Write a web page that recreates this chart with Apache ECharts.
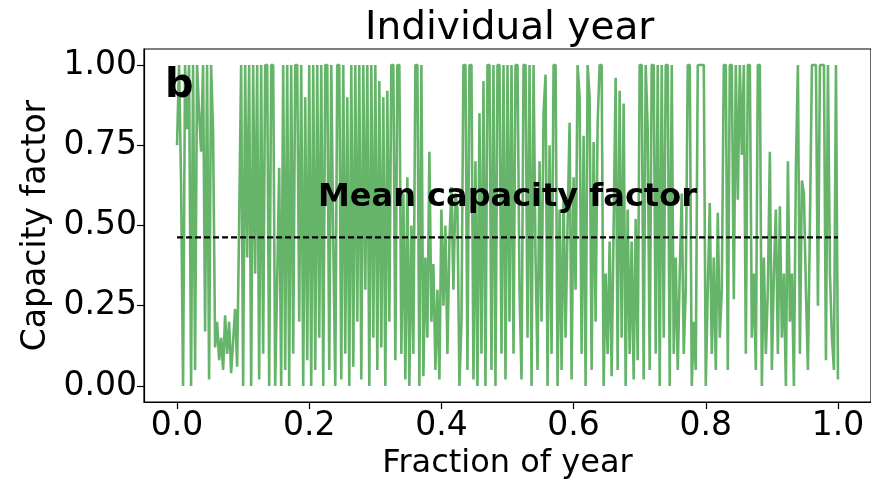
<!DOCTYPE html>
<html>
<head>
<meta charset="utf-8">
<script src="https://cdn.jsdelivr.net/npm/echarts@6/dist/echarts.min.js"></script>
<style>
  html, body { margin: 0; padding: 0; background: #fff; }
  #chart { width: 871px; height: 485px; }
</style>
</head>
<body>
<div id="chart"></div>
<script>
// hourly capacity factor (evenly spaced over the year)
const capacityFactor = [
  0.75, 1.0, 0.64, 0.0, 1.0, 0.8, 1.0, 0.0, 1.0, 0.05,
  1.0, 0.85, 0.73, 1.0, 0.17, 1.0, 0.02, 1.0, 0.79, 0.12,
  0.2, 0.08, 0.15, 0.05, 0.22, 0.1, 0.2, 0.04, 0.14, 0.24,
  0.06, 0.5, 1.0, 0.0, 1.0, 0.4, 1.0, 0.0, 1.0, 0.35,
  1.0, 0.02,
  1.0, 0.1, 1.0, 1.0, 0.0, 1.0, 1.0, 0.0, 0.33, 0.68,
  0.0, 1.0, 0.05, 1.0, 0.0, 1.0, 0.1, 1.0, 1.0, 0.2,
  1.0, 0.0, 0.9, 0.08, 1.0, 0.0, 1.0, 0.05, 1.0, 0.15,
  1.0, 0.0, 1.0, 1.0, 0.05, 1.0, 0.45, 0.0, 1.0, 1.0,
  0.02,
  1.0, 0.1, 0.9, 0.0, 1.0, 0.06, 1.0, 0.2, 1.0, 0.02,
  1.0, 0.3, 1.0, 0.0, 1.0, 0.15, 1.0, 0.05, 0.95, 0.12,
  0.9, 0.0, 0.92, 0.2, 1.0, 1.0, 0.08, 1.0, 1.0, 0.1,
  0.6, 0.02, 0.65, 0.0, 0.5, 0.1, 1.0, 1.0, 0.0, 1.0,
  0.03, 0.4, 0.15,
  0.73, 0.2, 0.38, 0.05, 0.3, 0.02, 0.55, 0.25, 0.5, 0.1,
  0.45, 0.62, 0.3, 0.6, 0.55, 0.0, 0.2, 1.0, 1.0, 0.05,
  1.0, 1.0, 0.02, 0.7, 0.0, 0.85, 0.1, 0.95, 0.0, 1.0,
  1.0, 0.05, 1.0, 0.0, 1.0, 1.0, 0.1, 1.0, 0.02, 1.0,
  0.2, 1.0,
  0.1, 1.0, 1.0, 0.3, 0.02, 1.0, 1.0, 0.15, 1.0, 0.0,
  1.0, 0.4, 0.05, 0.7, 0.2, 0.85, 0.97, 0.0, 0.75, 0.1,
  1.0, 1.0, 0.0, 0.55, 0.05, 0.6, 0.15, 0.5, 0.82, 0.02,
  0.65, 0.3, 1.0, 0.9, 0.1, 0.78, 0.0, 1.0, 0.9, 0.05,
  0.76, 0.2, 0.82,
  1.0, 1.0, 0.0, 0.35, 0.1, 0.45, 0.03, 0.5, 0.96, 0.05,
  0.92, 0.15, 0.88, 0.0, 0.55, 0.1, 0.45, 0.02, 0.52, 0.08,
  1.0, 1.0, 0.02, 1.0, 0.8, 0.05, 1.0, 1.0, 0.1, 1.0,
  0.0, 1.0, 0.15, 1.0, 1.0, 0.0, 1.0, 0.1, 0.4, 0.05,
  0.35,
  0.6, 0.1, 0.3, 1.0, 1.0, 0.0, 0.2, 0.05, 1.0, 1.0,
  1.0, 1.0, 0.0, 0.3, 0.57, 0.1, 0.4, 0.05, 0.54, 0.15,
  0.3, 1.0, 1.0, 0.05, 1.0, 1.0, 0.27, 1.0, 0.58, 1.0,
  0.72, 1.0, 0.1, 1.0, 1.0, 0.15, 0.35, 0.05, 1.0, 1.0,
  0.0, 0.4, 0.1,
  0.3, 0.73, 0.05, 0.35, 0.55, 0.1, 0.56, 0.15, 0.35, 0.0,
  0.7, 0.2, 0.35, 0.0, 0.68, 1.0, 0.1, 0.64, 0.6, 0.3,
  0.05, 0.5, 1.0, 1.0, 1.0, 0.25, 1.0, 1.0, 1.0, 0.08,
  1.0, 0.35, 0.15, 0.05, 1.0, 0.02
]
const meanCapacityFactor = 0.463
const xTicks = [0, 0.2, 0.4, 0.6, 0.8, 1.0]
const yTicks = [0, 0.25, 0.5, 0.75, 1.0]

const FONT = 'DejaVu Sans'
const series = capacityFactor.map((v, i) => [i / (capacityFactor.length - 1), v])
const meanLine = [[0, meanCapacityFactor], [1, meanCapacityFactor]]

const chart = echarts.init(document.getElementById('chart'), null, { renderer: 'canvas' })

const axisCommon = {
  type: 'value',
  splitLine: { show: false },
  axisLine: { show: true, onZero: false, lineStyle: { color: '#000', width: 1.2 } },
  axisTick: { show: true, length: 7, lineStyle: { color: '#000', width: 1.2 } },
  nameLocation: 'middle',
  nameTextStyle: { color: '#000', fontSize: 33, fontFamily: FONT }
}

const option = {
  animation: false,
  title: {
    text: 'Individual year',
    left: 360,
    top: 4,
    textStyle: { color: '#000', fontSize: 39, fontWeight: 'normal', fontFamily: FONT }
  },
  grid: {
    left: 144, right: 0, top: 49, bottom: 82,
    show: true, borderColor: '#000', borderWidth: 1.2
  },
  xAxis: Object.assign({}, axisCommon, {
    min: -0.05, max: 1.05,
    name: 'Fraction of year',
    nameGap: 46,
    nameTextStyle: { color: '#000', fontSize: 32, fontFamily: FONT },
    axisTick: Object.assign({}, axisCommon.axisTick, { customValues: xTicks }),
    axisLabel: {
      customValues: xTicks, margin: 8,
      formatter: v => v.toFixed(1),
      color: '#000', fontSize: 33, fontFamily: FONT
    }
  }),
  yAxis: Object.assign({}, axisCommon, {
    min: -0.05, max: 1.05,
    name: 'Capacity factor',
    nameGap: 89,
    axisTick: Object.assign({}, axisCommon.axisTick, { customValues: yTicks }),
    axisLabel: {
      customValues: yTicks, margin: 7,
      formatter: v => v.toFixed(2),
      color: '#000', fontSize: 33, fontFamily: FONT
    }
  }),
  series: [
    {
      type: 'line',
      data: series,
      showSymbol: false,
      sampling: null,
      lineStyle: { color: '#66b46a', width: 2.6 },
      itemStyle: { color: '#66b46a' },
      z: 2
    },
    {
      type: 'line',
      data: meanLine,
      showSymbol: false,
      lineStyle: { color: '#000', width: 2.2, type: [6, 3] },
      z: 3
    }
  ],
  graphic: [
    {
      type: 'text', left: 165, top: 67, z: 100,
      style: { text: 'b', fill: '#000', font: 'bold 40px "DejaVu Sans"' }
    },
    {
      type: 'text', left: 318, top: 182, z: 100,
      style: { text: 'Mean capacity factor', fill: '#000', font: 'bold 32px "DejaVu Sans"' }
    }
  ]
}

chart.setOption(option)
</script>
</body>
</html>
